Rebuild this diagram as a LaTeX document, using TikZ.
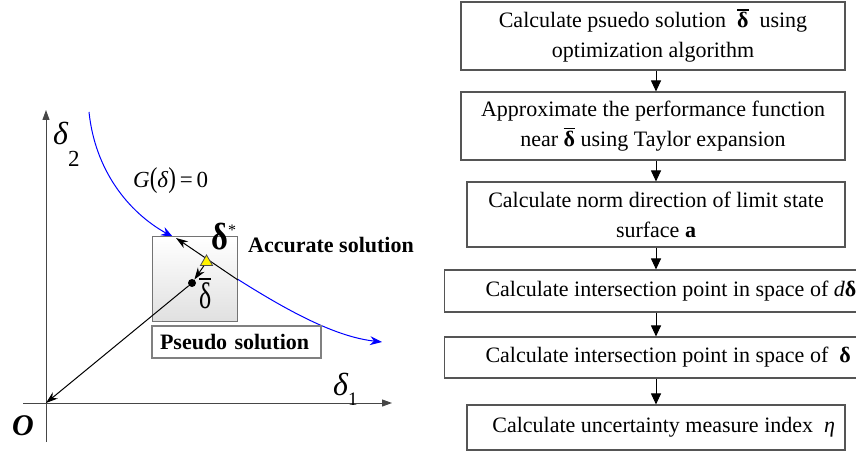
\documentclass[tikz,border=0pt]{standalone}
\usepackage{fontspec}
\usepackage{graphicx}
\setmainfont{Liberation Serif}
\usetikzlibrary{arrows.meta,shapes.geometric}

% symbol with a bar set above it
\newcommand{\barglyph}[2][1.3pt]{\vbox{\hrule height #1\kern 2pt\hbox{#2}}}

\definecolor{curveblue}{RGB}{0,0,255}
\definecolor{axisgray}{RGB}{70,70,70}
\definecolor{boxedge}{RGB}{85,85,85}

\begin{document}
\begin{tikzpicture}[x=1pt,y=-1pt,
  flowbox/.style={draw=boxedge, line width=1.1pt, fill=white, inner sep=0pt,
    font=\fontsize{22}{30}\selectfont, align=center},
  flowarrow/.style={draw=black, line width=1pt, -{Triangle[length=11pt,width=10pt]}},
  axisline/.style={draw=axisgray, line width=1pt, -{Triangle[length=10pt,width=7pt]}},
  limitcurve/.style={draw=curveblue, line width=1pt, -{Stealth[length=12pt,width=9pt]}},
  vecline/.style={draw=black, line width=1pt, -{Stealth[length=12pt,width=8pt]}},
  plainlabel/.style={inner sep=0pt, anchor=base west},
]
\useasboundingbox (0,0) rectangle (856,454);
\clip (0,0) rectangle (856,454);

% ---------- coordinate plane ----------
\coordinate (O) at (46,403);
\coordinate (xs) at (23,403);
\coordinate (xe) at (392,403);
\coordinate (ys) at (46,442);
\coordinate (ye) at (46,110);
\draw[axisline] (xs) -- (xe);
\draw[axisline] (ys) -- (ye);

% limit state surface G = 0
\coordinate (g0) at (89,112);
\coordinate (gm) at (173,237);
\coordinate (g1) at (382,342);
\draw[limitcurve] (g0) .. controls (95,170) and (128,212) .. (gm);
\draw[limitcurve] (gm) .. controls (250,288) and (320,335) .. (g1);

% neighbourhood of the pseudo solution
\node[draw=black!55, line width=1pt, top color=white, bottom color=black!12,
      minimum width=85, minimum height=84, inner sep=0pt] (zone) at (194.5,279) {};

\node[draw=black!50, line width=1.3pt, fill=white, minimum height=32,
      text width=153pt, align=left, inner xsep=8pt, inner ysep=0pt,
      font=\fontsize{22}{22}\selectfont\bfseries] (pseudo) at (236.5,342) {Pseudo solution};

% points and search directions
\node[circle, fill=black, inner sep=0pt, minimum size=8] (pbar) at (192,283) {};
\coordinate (qa) at (176,238);
\coordinate (qe) at (238,280);
\draw[vecline] (qe) -- (qa);
\node[regular polygon, regular polygon sides=3, minimum size=14, inner sep=0pt,
      fill=yellow, draw=black!70, line width=0.8pt] (tri) at (206.5,262) {};
\draw[vecline] (tri) -- (pbar);
\draw[vecline] (pbar) -- (O);

% labels of the plane
\node[plainlabel, font=\fontsize{36}{36}\selectfont\bfseries] (dstar) at (211,250)
  {\scalebox{0.9}[1.05]{δ}\raisebox{14pt}{\fontsize{16}{16}\selectfont\mdseries *}};
\node[plainlabel, font=\fontsize{22}{22}\selectfont\bfseries] (acc) at (248,253) {Accurate solution};
\node[plainlabel, font=\fontsize{37}{37}\selectfont] (dbar) at (199,308)
  {\barglyph[1.7pt]{\scalebox{0.7}[1]{δ}}};
\node[plainlabel, font=\fontsize{30}{30}\selectfont\bfseries\itshape] (olab) at (12,435) {O};
\node[plainlabel, font=\fontsize{32}{32}\selectfont\itshape] (d2lab) at (53,145)
  {δ\raisebox{-22pt}{\fontsize{23}{23}\selectfont\upshape 2}};
\node[plainlabel, font=\fontsize{32}{32}\selectfont\itshape] (d1lab) at (333,395)
  {δ\raisebox{-10pt}{\fontsize{19}{19}\selectfont\upshape 1}};
\node[plainlabel, font=\fontsize{23}{23}\selectfont] (glab) at (133,188)
  {\textit{G}\scalebox{1}[1.25]{(}\textit{δ}\scalebox{1}[1.25]{)}\,=\,0};

% ---------- procedure ----------
\node[flowbox, minimum width=384, minimum height=68] (b1) at (653,36)
  {Calculate psuedo solution\ \ \barglyph{\bfseries δ}\ \ using\\optimization algorithm};
\node[flowbox, minimum width=384, minimum height=68] (b2) at (653,126)
  {Approximate the performance function\\near \barglyph{\bfseries δ} using Taylor expansion};
\node[flowbox, minimum width=378, minimum height=65] (b3) at (656,214.5)
  {Calculate norm direction of limit state\\surface \textbf{a}};
\node[flowbox, anchor=west, minimum height=42, inner xsep=41pt, align=left] (b4) at (444,291)
  {Calculate intersection point in space of \textit{d}\textbf{δ}};
\node[flowbox, anchor=west, minimum height=41, inner xsep=41pt, align=left] (b5) at (444,357.5)
  {Calculate intersection point in space of\ \ \textbf{δ}};
\node[flowbox, minimum height=45, minimum width=378, inner xsep=0pt] (b6) at (656,427.5)
  {\makebox[368pt][r]{Calculate uncertainty measure index\ \ \textit{η}}\hspace{10pt}};

\draw[flowarrow] (b3.north |- b1.south) -- (b3.north |- b2.north);
\draw[flowarrow] (b3.north |- b2.south) -- (b3.north);
\draw[flowarrow] (b3.south) -- (b3.south |- b4.north);
\draw[flowarrow] (b3.south |- b4.south) -- (b3.south |- b5.north);
\draw[flowarrow] (b3.south |- b5.south) -- (b6.north);
\end{tikzpicture}
\end{document}
